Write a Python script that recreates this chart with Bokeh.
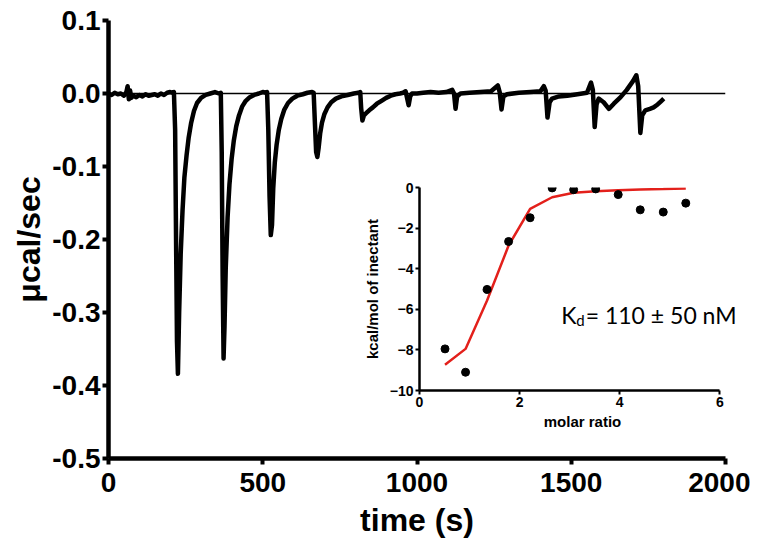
from bokeh.plotting import figure
from bokeh.models import FixedTicker, Span, Label, Range1d, PrintfTickFormatter
from bokeh.layouts import column, row
from bokeh.embed import file_html
from bokeh.resources import INLINE

# ---------------- data ----------------
# raw ITC thermogram (time in s, power in ucal/sec)
t_trace = [0, 10, 20, 30, 40, 50, 58, 62, 66, 70, 74, 80, 90, 100, 110, 120, 130, 140, 150, 160,
           170, 180, 190, 200, 208, 212,
           216, 219, 222, 225, 229, 234, 240, 246, 253, 260, 268, 277, 287, 300, 315, 330, 345, 358, 364,
           367, 370, 373, 376, 380, 386, 392, 399, 406, 414, 423, 433, 445, 458, 472, 487, 500, 510, 514,
           518, 522, 526, 530, 534, 539, 545, 552, 560, 570, 582, 596, 612, 630, 645, 660, 665,
           669, 673, 677, 681, 686, 692, 700, 710, 722, 737, 755, 775, 795, 810, 816,
           819, 823, 828, 835, 845, 857, 870, 885, 900, 915, 930, 945, 955, 963,
           973, 978, 984, 1000, 1020, 1044, 1070, 1095, 1114, 1120, 1125, 1130, 1141, 1170, 1206, 1240,
           1262, 1268, 1274, 1280, 1292, 1330, 1368, 1400, 1411, 1417, 1423, 1430, 1438, 1460, 1487, 1520,
           1551, 1564, 1570, 1576, 1582, 1589, 1605, 1622, 1638, 1660, 1680, 1700, 1711, 1717, 1724, 1730,
           1740, 1755, 1767, 1780, 1790, 1800]
v_trace = [0.000, -0.002, 0.001, -0.001, 0.000, -0.003, 0.002, 0.010, -0.008, 0.004, -0.006, -0.003, -0.005,
           -0.002, -0.004, -0.001, -0.003, -0.002, -0.001, -0.003,
           0.000, -0.002, 0.001, 0.002, 0.001, 0.002,
           -0.05, -0.20, -0.34, -0.384, -0.30, -0.22, -0.16, -0.115, -0.085, -0.06, -0.04, -0.024, -0.013,
           -0.006, -0.002, 0.000, 0.002, 0.000, 0.001,
           -0.08, -0.25, -0.363, -0.32, -0.24, -0.17, -0.125, -0.09, -0.065, -0.045, -0.03, -0.018, -0.01,
           -0.005, -0.002, 0.000, 0.002, 0.001, 0.002,
           -0.05, -0.14, -0.194, -0.18, -0.13, -0.095, -0.07, -0.05, -0.035, -0.022, -0.013, -0.007, -0.003,
           -0.001, 0.001, 0.002, 0.001,
           -0.04, -0.08, -0.087, -0.075, -0.055, -0.04, -0.028, -0.019, -0.012, -0.007, -0.004, -0.002,
           0.000, 0.001, 0.002,
           -0.02, -0.037, -0.03, -0.027, -0.023, -0.019, -0.014, -0.01, -0.006, -0.003, -0.001, 0.000,
           0.001, 0.003,
           -0.016, -0.004, 0.000, 0.000, 0.001, 0.002, 0.001, 0.002, 0.005, 0.000, -0.021, -0.004, 0.000,
           0.001, 0.002, 0.003,
           0.011, 0.002, -0.022, -0.004, -0.001, 0.001, 0.002, 0.003, 0.010, 0.004, -0.033, -0.012, -0.007,
           -0.004, -0.003, -0.001,
           0.001, 0.015, 0.005, -0.046, -0.015, -0.007, -0.012, -0.021, -0.014, -0.005, 0.005, 0.017,
           0.025, 0.010, -0.054, -0.030,
           -0.023, -0.021, -0.019, -0.015, -0.011, -0.007]

x_ticks = [0, 500, 1000, 1500, 2000]
y_ticks = [-0.5, -0.4, -0.3, -0.2, -0.1, 0.0, 0.1]

# integrated heats (inset)
molar_ratio = [0.51, 0.92, 1.35, 1.78, 2.21, 2.65, 3.08, 3.52, 3.97, 4.41, 4.87, 5.32]
heat = [-7.95, -9.10, -5.02, -2.66, -1.49, -0.02, -0.11, -0.07, -0.35, -1.10, -1.21, -0.77]
fit_ratio = [0.51, 0.92, 1.35, 1.78, 2.21, 2.65, 3.08, 3.52, 3.97, 4.41, 4.87, 5.32]
fit_heat = [-8.73, -7.95, -5.57, -2.86, -1.05, -0.48, -0.26, -0.18, -0.13, -0.10, -0.08, -0.05]

inset_x_ticks = [0, 2, 4, 6]
inset_y_ticks = [0, -2, -4, -6, -8, -10]

FONT = "Liberation Sans"

# ---------------- main thermogram ----------------
p = figure(width=750, height=548, output_backend="svg", toolbar_location=None,
           x_range=Range1d(0, 2000), y_range=Range1d(-0.5, 0.1),
           min_border_left=108, min_border_right=25, min_border_top=20, min_border_bottom=90)
p.outline_line_color = None
p.grid.visible = False
p.background_fill_color = "white"

p.add_layout(Span(location=0, dimension="width", line_color="black", line_width=1.5))
p.line(x=t_trace, y=v_trace, line_color="black", line_width=4.5, line_join="round")

for ax in (p.xaxis[0], p.yaxis[0]):
    ax.axis_line_width = 4.5
    ax.axis_line_color = "black"
    ax.major_tick_line_width = 4
    ax.major_tick_line_color = "black"
    ax.major_tick_out = 6
    ax.major_tick_in = 0
    ax.minor_tick_line_color = None
    ax.major_label_text_font = FONT
    ax.major_label_text_font_style = "bold"
    ax.major_label_text_font_size = "28px"
    ax.major_label_text_color = "black"
    ax.axis_label_text_font = FONT
    ax.axis_label_text_font_style = "bold"
    ax.axis_label_text_font_size = "32px"
    ax.axis_label_text_color = "black"

p.xaxis[0].ticker = FixedTicker(ticks=x_ticks)
p.yaxis[0].ticker = FixedTicker(ticks=y_ticks)
p.yaxis[0].formatter = PrintfTickFormatter(format="%.1f")
p.xaxis[0].axis_label = "time (s)"
p.yaxis[0].axis_label = "\u03bccal/sec"
p.xaxis[0].major_label_standoff = 8
p.xaxis[0].axis_label_standoff = 7
p.yaxis[0].major_label_standoff = 2
p.yaxis[0].axis_label_standoff = 2

# ---------------- inset: integrated heats ----------------
q = figure(width=390, height=265, output_backend="svg", toolbar_location=None,
           x_range=Range1d(0, 6.513), y_range=Range1d(-10, 0),
           min_border_left=55, min_border_right=5, min_border_top=12, min_border_bottom=50)
q.outline_line_color = None
q.grid.visible = False
q.background_fill_alpha = 0
q.border_fill_alpha = 0

q.line(x=fit_ratio, y=fit_heat, line_color="#e3201b", line_width=2.5)
q.scatter(x=molar_ratio, y=heat, size=8, color="black")

for ax in (q.xaxis[0], q.yaxis[0]):
    ax.axis_line_width = 2.5
    ax.axis_line_color = "black"
    ax.major_tick_line_width = 2
    ax.major_tick_line_color = "black"
    ax.major_tick_out = 4
    ax.major_tick_in = 0
    ax.minor_tick_line_color = None
    ax.major_label_text_font = FONT
    ax.major_label_text_font_style = "bold"
    ax.major_label_text_font_size = "14px"
    ax.major_label_text_color = "black"
    ax.axis_label_text_font = FONT
    ax.axis_label_text_font_style = "bold"
    ax.axis_label_text_font_size = "15px"
    ax.axis_label_text_color = "black"

q.xaxis[0].ticker = FixedTicker(ticks=inset_x_ticks)
q.xaxis[0].bounds = (0, 6)
q.yaxis[0].ticker = FixedTicker(ticks=inset_y_ticks)
q.xaxis[0].axis_label = "molar ratio"
q.yaxis[0].axis_label = "kcal/mol of inectant"
q.xaxis[0].major_label_standoff = 2
q.xaxis[0].axis_label_standoff = 3
q.yaxis[0].major_label_standoff = 2
q.yaxis[0].axis_label_standoff = 6

kd_font = "Lato"
q.add_layout(Label(x=2.83, y=-6.26, text="K", text_font=kd_font, text_font_size="23px",
                   text_color="black", text_baseline="alphabetic"))
q.add_layout(Label(x=3.13, y=-6.55, text="d", text_font=kd_font, text_font_size="15px",
                   text_color="black", text_baseline="alphabetic"))
q.add_layout(Label(x=3.32, y=-6.26, text="= 110 \u00b1 50 nM", text_font=kd_font, text_font_size="23px",
                   text_color="black", text_baseline="alphabetic"))

inset_box = row(q)
inset_box.margin = (-373, 0, 0, 360)

layout = column(p, inset_box)
open("out.html", "w").write(file_html(layout, INLINE))
